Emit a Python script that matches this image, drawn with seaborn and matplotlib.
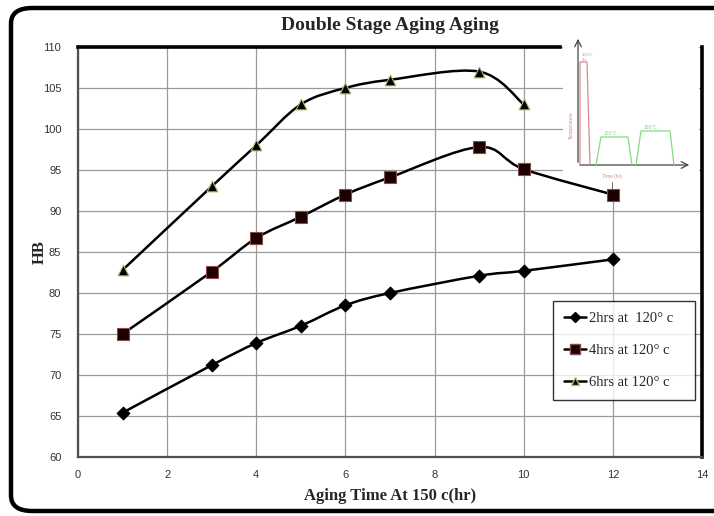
import numpy as np
import pandas as pd
import seaborn as sns
import matplotlib
matplotlib.use("Agg")
import matplotlib.pyplot as plt
from matplotlib.path import Path
from matplotlib.patches import PathPatch, FancyBboxPatch, Rectangle
from matplotlib.lines import Line2D
from matplotlib.ticker import MultipleLocator

# Aging time at 150 C (hr) and hardness (HB) for each pre-aging time at 120 C
time_2h = [1, 3, 4, 5, 6, 7, 9, 10, 12]
hb_2h = [65.4, 71.2, 73.9, 76.0, 78.5, 80.0, 82.1, 82.7, 84.1]

time_4h = [1, 3, 4, 5, 6, 7, 9, 10, 12]
hb_4h = [75.0, 82.6, 86.7, 89.3, 92.0, 94.1, 97.8, 95.1, 92.0]

time_6h = [1, 3, 4, 5, 6, 7, 9, 10]
hb_6h = [82.8, 93.0, 98.0, 103.0, 105.0, 106.0, 107.0, 103.0]

labels = ["2hrs at  120° c", "4hrs at 120° c", "6hrs at 120° c"]

rows = []
for lab, xs, ys in zip(labels, [time_2h, time_4h, time_6h], [hb_2h, hb_4h, hb_6h]):
    for x, y in zip(xs, ys):
        rows.append({"time": x, "hb": y, "series": lab})
df = pd.DataFrame(rows)

sns.set_theme(style="white")
plt.rcParams["font.family"] = ["Liberation Sans", "DejaVu Sans"]
SERIF = ["Liberation Serif", "DejaVu Serif"]

fig = plt.figure(figsize=(7.14, 5.16), dpi=100)
W, H = 714, 516


def fx(px):
    return px / W


def fy(py):
    return 1 - py / H


ax = fig.add_axes([fx(78), fy(457), fx(702) - fx(78), fy(47) - fy(457)])


def smooth_path(xs, ys):
    """Bezier path through the points (Catmull-Rom style smoothing)."""
    pts = np.column_stack([xs, ys]).astype(float)
    n = len(pts)
    verts = [pts[0]]
    codes = [Path.MOVETO]
    for i in range(n - 1):
        p0 = pts[i - 1] if i > 0 else pts[i]
        p1 = pts[i]
        p2 = pts[i + 1]
        p3 = pts[i + 2] if i + 2 < n else pts[i + 1]
        c1 = p1 + (p2 - p0) / 6.0
        c2 = p2 - (p3 - p1) / 6.0
        verts += [c1, c2, p2]
        codes += [Path.CURVE4] * 3
    return Path(verts, codes)


styles = {
    labels[0]: dict(marker="D", s=42, color="black", edgecolor="black"),
    labels[1]: dict(marker="s", s=80, color="#1a0000", edgecolor="#8a4a4a"),
    labels[2]: dict(marker="^", s=60, color="black", edgecolor="#b8b870"),
}

for lab in labels:
    sub = df[df["series"] == lab]
    ax.add_patch(PathPatch(smooth_path(sub["time"], sub["hb"]), fill=False,
                           edgecolor="black", lw=1.8, zorder=3))
    st = styles[lab]
    sns.scatterplot(data=sub, x="time", y="hb", ax=ax, marker=st["marker"], s=st["s"],
                    color=st["color"], edgecolor=st["edgecolor"], linewidth=0.8,
                    zorder=4, legend=False)

ax.set_xlim(0, 14)
ax.set_ylim(60, 110)
ax.xaxis.set_major_locator(MultipleLocator(2))
ax.xaxis.set_minor_locator(MultipleLocator(0.4))
ax.yaxis.set_major_locator(MultipleLocator(5))
ax.yaxis.set_minor_locator(MultipleLocator(1))
ax.grid(True, which="major", color="#9a9a9a", lw=0.9)
ax.set_axisbelow(True)
ax.tick_params(axis="both", which="major", direction="in", length=4, width=0.8,
               labelsize=8, labelcolor="#333333", color="#666666")
ax.tick_params(axis="both", which="minor", direction="in", length=3, width=0.6,
               color="#888888")
ax.tick_params(axis="x", pad=9)
ax.tick_params(axis="y", pad=12)

for side in ["left", "bottom"]:
    ax.spines[side].set_color("#505050")
    ax.spines[side].set_linewidth(1.6)
for side in ["top", "right"]:
    ax.spines[side].set_color("black")
    ax.spines[side].set_linewidth(2.6)
# the schematic sits over the right end of the top edge
ax.spines["top"].set_bounds(0, (560 - 78) / (702 - 78) * 14)

ax.set_xlabel("Aging Time At 150 c(hr)", fontsize=12, fontweight="bold",
              family=SERIF, labelpad=6)
ax.set_ylabel("HB", fontsize=12, fontweight="bold", family=SERIF)
ax.yaxis.set_label_coords((48 - 78) / 624, 0.5)
fig.text(fx(390), fy(26), "Double Stage Aging Aging", ha="center", va="center",
         fontsize=14, fontweight="bold", family=SERIF)

handles = []
for lab in labels:
    st = styles[lab]
    handles.append(Line2D([0], [0], color="black", lw=1.8, marker=st["marker"],
                          markersize=np.sqrt(st["s"]) * 0.75, markerfacecolor=st["color"],
                          markeredgecolor=st["edgecolor"], label=lab))
leg = ax.legend(handles=handles, loc="lower left",
                bbox_to_anchor=((553 - 78) / 624, (457 - 400) / 410,
                                (695 - 553) / 624, 95 / 410),
                mode="expand", borderaxespad=0, frameon=True, fancybox=False,
                handlelength=1.5, handletextpad=0.2, labelspacing=1.3, borderpad=0.75,
                prop={"family": SERIF, "size": 10.5})
leg.get_frame().set_edgecolor("black")
leg.get_frame().set_linewidth(1.0)
leg.set_zorder(10)

# Heat-treatment schematic in the upper right corner, drawn in figure pixels
tf = fig.transFigure


def P(xs, ys):
    return [fx(v) for v in xs], [fy(v) for v in ys]


ax.add_patch(Rectangle((fx(563), fy(190)), fx(699) - fx(563), fy(30) - fy(190),
                       transform=tf, facecolor="white", edgecolor="none",
                       zorder=1, clip_on=False))
pink = "#d88a8a"
green = "#7fdc7f"
arrow = dict(arrowstyle="->", color="#444444", lw=0.9)
ax.annotate("", xy=(fx(578), fy(36)), xytext=(fx(578), fy(165)),
            xycoords="figure fraction", textcoords="figure fraction",
            arrowprops=arrow, zorder=2, annotation_clip=False)
ax.annotate("", xy=(fx(692), fy(165)), xytext=(fx(577), fy(165)),
            xycoords="figure fraction", textcoords="figure fraction",
            arrowprops=arrow, zorder=2, annotation_clip=False)
for xs, ys, c in [([580, 580, 587, 590], [165, 62, 62, 165], pink),
                  ([596, 601, 628, 632], [165, 137, 137, 165], green),
                  ([636, 641, 670, 674], [165, 131, 131, 165], green),
                  ([612, 612], [182, 190], "#555555")]:
    px, py = P(xs, ys)
    ax.plot(px, py, color=c, lw=0.9 if c != "#555555" else 0.6, transform=tf,
            clip_on=False, zorder=2)
for x, y, s, c, kw in [(582, 62, "150°C\n2hr", pink, dict(va="bottom", ha="left", fontsize=3)),
                       (610, 136, "120°C", green, dict(va="bottom", ha="center", fontsize=3.5)),
                       (650, 130, "150°C", green, dict(va="bottom", ha="center", fontsize=3.5)),
                       (571, 125, "Temperature", pink, dict(va="center", ha="center",
                                                            fontsize=3.5, rotation=90)),
                       (612, 177, "Time (hr)", pink, dict(va="center", ha="center",
                                                          fontsize=3.5))]:
    ax.text(fx(x), fy(y), s, color=c, transform=tf, clip_on=False, zorder=2, **kw)

# Rounded outer frame
frame = FancyBboxPatch((fx(11), fy(511)), fx(740) - fx(11), fy(8) - fy(511),
                       boxstyle="round,pad=0,rounding_size=0.03",
                       transform=fig.transFigure, fill=False, edgecolor="black",
                       lw=3.2, clip_on=False)
fig.patches.append(frame)

fig.savefig("out.png", dpi=100, facecolor="white")
